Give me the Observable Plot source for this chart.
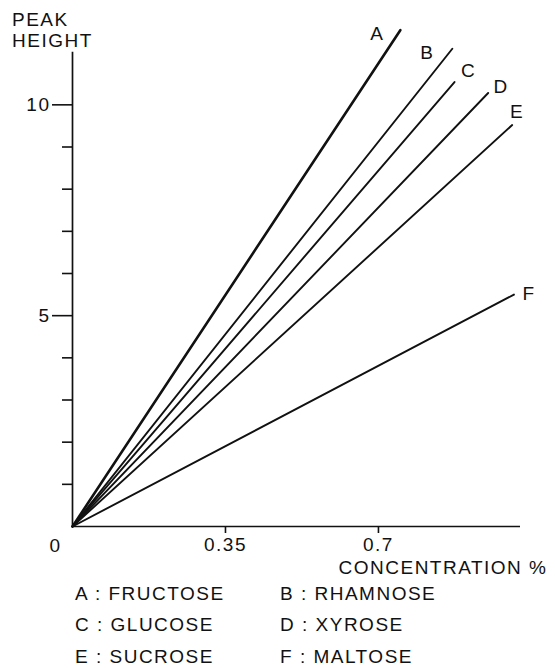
<!DOCTYPE html>
<html><head><meta charset="utf-8">
<script src="https://cdn.jsdelivr.net/npm/d3@7"></script>
<script src="https://cdn.jsdelivr.net/npm/@observablehq/plot@0.6"></script>
<style>
body{margin:0;background:#fff;}
#wrap{position:relative;width:555px;height:668px;font-family:"Liberation Sans",Arial,sans-serif;color:#111;}
#chart{position:absolute;left:0;top:0;}
#title{position:absolute;left:12px;top:9px;font-size:19px;letter-spacing:1.5px;line-height:21px;}
#legend{position:absolute;left:75px;top:578px;display:grid;grid-template-columns:205px 220px;grid-auto-rows:31.5px;align-items:center;font-size:19px;letter-spacing:1.5px;}
</style></head><body>
<div id="wrap"><div id="chart"></div><div id="title">PEAK<br>HEIGHT</div><div id="legend"></div></div>
<script>
// data
const series = ["A","B","C","D","E","F"];
const sugars = ["FRUCTOSE","RHAMNOSE","GLUCOSE","XYROSE","SUCROSE","MALTOSE"];
const endConcentration = [0.75,0.869,0.874,0.951,1.006,1.01];
const endPeak = [11.77,11.33,10.54,10.28,9.52,5.50];
const originPoint = [0, 0];
const xTicks = [0.35, 0.7];
const xTickLabels = ["0.35","0.7"];
const yMajorTicks = [5, 10];
const yMinorTicks = [1,2,3,4,6,7,8,9];
const xDomain = [0, 1.025];
const yDomain = [0, 12];
const yAxisTop = 11.25;
const xAxisTitle = "CONCENTRATION %";

// styling
const labelDx = [-23,-25,14,13,5,15];
const labelDy = [4,4,-11,-6,-13,-1];
const lineWidth = [2.6,1.9,1.9,1.9,1.9,1.9];
const ink = "#111";

const rows = [];
series.forEach((s,i)=>{
  rows.push({series:s, c:originPoint[0], p:originPoint[1]});
  rows.push({series:s, c:endConcentration[i], p:endPeak[i]});
});
const ends = series.map((s,i)=>({series:s, c:endConcentration[i], p:endPeak[i]}));

const marks = [
  Plot.ruleY([0], {stroke: ink, strokeWidth: 1.7}),
  Plot.ruleX([0], {y1: 0, y2: yAxisTop, stroke: ink, strokeWidth: 1.7}),
  Plot.axisX(xTicks, {tickSize: 7, tickPadding: 4, fontSize: 19, label: null, stroke: ink, strokeWidth: 1.6,
    tickFormat: d => xTickLabels[xTicks.indexOf(d)]}),
  Plot.axisY(yMajorTicks, {tickSize: 20, tickPadding: 2, fontSize: 19, label: null, stroke: ink, strokeWidth: 1.6, tickFormat: d => String(d)}),
  Plot.axisY(yMinorTicks, {tickSize: 10, label: null, stroke: ink, strokeWidth: 1.6, tickFormat: () => ""}),
  Plot.text([originPoint], {x: d => d[0], y: d => d[1], text: () => "0", dx: -17, dy: 19, fontSize: 19, fill: ink}),
  Plot.text([xAxisTitle], {frameAnchor: "bottom-right", textAnchor: "end", dx: 27, dy: 47, fontSize: 19, fill: ink}),
  ...series.map((s,i) => Plot.line(rows.filter(r => r.series === s), {x: "c", y: "p", stroke: ink, strokeWidth: lineWidth[i]})),
  ...series.map((s,i) => Plot.text([ends[i]], {x: "c", y: "p", text: "series", dx: labelDx[i], dy: labelDy[i], fontSize: 19, fill: ink}))
];

const chart = Plot.plot({
  width: 555,
  height: 580,
  marginLeft: 72,
  marginRight: 35,
  marginTop: 20,
  marginBottom: 54,
  x: {domain: xDomain, axis: null},
  y: {domain: yDomain, axis: null},
  style: {fontFamily: "'Liberation Sans', Arial, sans-serif", fontSize: "19px", letterSpacing: "1.5px", color: ink, background: "transparent", overflow: "visible"},
  marks
});
document.getElementById("chart").appendChild(chart);

const legend = document.getElementById("legend");
series.forEach((s,i) => {
  const el = document.createElement("div");
  el.textContent = s + " : " + sugars[i];
  legend.appendChild(el);
});
</script>
</body></html>
